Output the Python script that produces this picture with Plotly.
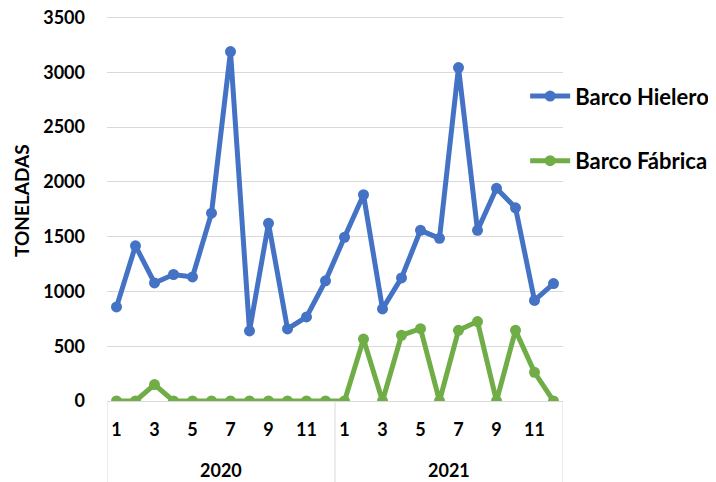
import plotly.graph_objects as go

years = ["2020", "2021"]
months = [str(m) for m in range(1, 13)]

hielero_2020 = [859, 1417, 1078, 1155, 1133, 1715, 3190, 640, 1622, 658, 768, 1097]
hielero_2021 = [1495, 1883, 841, 1124, 1558, 1485, 3044, 1558, 1942, 1764, 918, 1072]
fabrica_2020 = [0, 0, 150, 0, 0, 0, 0, 0, 0, 0, 0, 0]
fabrica_2021 = [0, 565, 0, 600, 660, 0, 645, 725, 0, 645, 262, 0]

hielero = hielero_2020 + hielero_2021
fabrica = fabrica_2020 + fabrica_2021
labels = months + months
xs = list(range(len(labels)))
yticks = [0, 500, 1000, 1500, 2000, 2500, 3000, 3500]

BLUE = "#4472C4"
GREEN = "#70AD47"
FONT = "Lato"
TICKFONT = dict(family=FONT, size=18, color="#000000", weight="bold")

fig = go.Figure()
fig.add_trace(go.Scatter(x=xs, y=hielero, mode="lines+markers", name="Barco Hielero",
                         line=dict(color=BLUE, width=5), marker=dict(color=BLUE, size=11),
                         legendgroup="a"))
fig.add_trace(go.Scatter(x=xs, y=fabrica, mode="lines+markers", name="Barco Fábrica",
                         line=dict(color=GREEN, width=5), marker=dict(color=GREEN, size=11),
                         legendgroup="b"))

tickvals = [i for i in xs if i % 2 == 0]
ticktext = [labels[i] for i in tickvals]

fig.update_xaxes(range=[-0.5, len(xs) - 0.5], tickmode="array", tickvals=tickvals, ticktext=ticktext,
                 showgrid=False, zeroline=False, showline=True, linecolor="#d9d9d9", linewidth=1,
                 ticks="", ticklabelstandoff=12, tickfont=TICKFONT)
fig.update_yaxes(range=[0, 3515], tickmode="array", tickvals=yticks,
                 showgrid=True, gridcolor="#d9d9d9", gridwidth=1,
                 zeroline=False, showline=False, ticks="", ticklabelstandoff=21,
                 ticklabeloverflow="allow", tickfont=TICKFONT)

shapes = []
n = len(months)
for k in range(len(years) + 1):
    xv = k * n - 0.5
    shapes.append(dict(type="line", xref="x", yref="paper", x0=xv, x1=xv, y0=0, y1=-0.215,
                       line=dict(color="#d9d9d9", width=1)))
annotations = []
for k, yr in enumerate(years):
    annotations.append(dict(x=k * n + (n - 1) / 2, xref="x", y=-0.18, yref="paper", text=yr,
                            showarrow=False, yanchor="middle", font=TICKFONT))
annotations.append(dict(x=-0.186, xref="paper", y=0.52, yref="paper", text="TONELADAS",
                        textangle=-90, showarrow=False, xanchor="center", yanchor="middle",
                        font=dict(family=FONT, size=19, color="#000000", weight="bold")))

# page body adds an 8px offset, so the figure is sized to the visible area
fig.update_layout(
    width=708, height=474,
    margin=dict(l=99, r=153, t=8, b=81, autoexpand=False),
    paper_bgcolor="white", plot_bgcolor="white",
    shapes=shapes, annotations=annotations,
    legend=dict(x=0.917, y=0.846, xanchor="left", yanchor="top", tracegroupgap=33,
                bgcolor="rgba(0,0,0,0)",
                font=dict(family=FONT, size=22, color="#000000", weight="bold"),
                itemwidth=40),
    showlegend=True,
)

fig.write_html("out.html")
